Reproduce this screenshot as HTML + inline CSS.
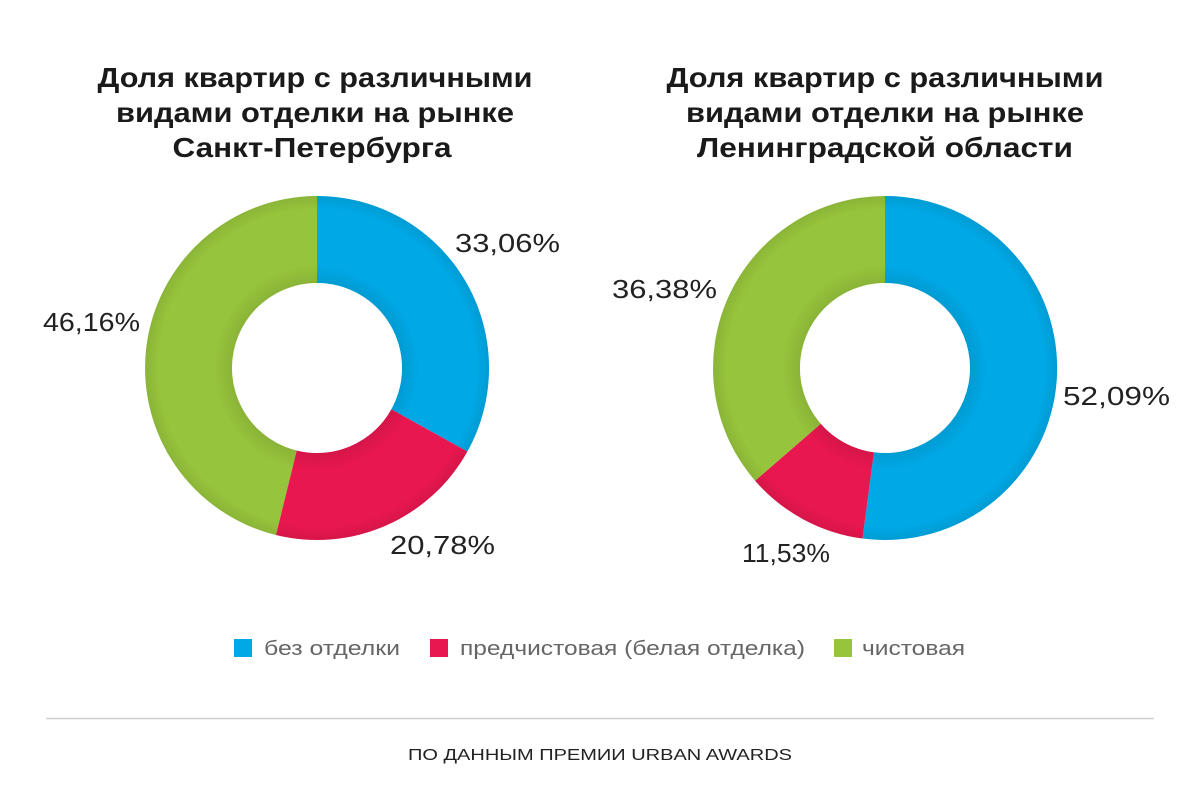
<!DOCTYPE html>
<html><head><meta charset="utf-8"><style>
html,body{margin:0;padding:0;background:#fff;}
body{width:1200px;height:781px;overflow:hidden;font-family:"Liberation Sans",sans-serif;}
</style></head><body>
<svg width="1200" height="781" viewBox="0 0 1200 781" xmlns="http://www.w3.org/2000/svg" font-family="Liberation Sans, sans-serif">
<defs>
<radialGradient id="sh" cx="0.5" cy="0.5" r="0.5">
<stop offset="0.5" stop-color="#000" stop-opacity="0.08"/>
<stop offset="0.6" stop-color="#000" stop-opacity="0"/>
<stop offset="0.92" stop-color="#000" stop-opacity="0"/>
<stop offset="1" stop-color="#000" stop-opacity="0.08"/>
</radialGradient>
</defs>
<g font-weight="bold" font-size="28" fill="#1a1a1a" text-anchor="middle" lengthAdjust="spacingAndGlyphs">
<text x="315" y="87" textLength="435" lengthAdjust="spacingAndGlyphs">Доля квартир с различными</text>
<text x="315" y="122" textLength="398" lengthAdjust="spacingAndGlyphs">видами отделки на рынке</text>
<text x="312" y="157" textLength="279" lengthAdjust="spacingAndGlyphs">Санкт-Петербурга</text>
<text x="885" y="87" textLength="437" lengthAdjust="spacingAndGlyphs">Доля квартир с различными</text>
<text x="885" y="122" textLength="398" lengthAdjust="spacingAndGlyphs">видами отделки на рынке</text>
<text x="885" y="157" textLength="376" lengthAdjust="spacingAndGlyphs">Ленинградской области</text>
</g>
<path d="M317 196 A172 172 0 0 1 467.4 451.5 L391.3 409.2 A85 85 0 0 0 317 283 Z" fill="#00a9e6"/>
<path d="M467.4 451.5 A172 172 0 0 1 275.9 535 L296.7 450.5 A85 85 0 0 0 391.3 409.2 Z" fill="#e8174f"/>
<path d="M275.9 535 A172 172 0 0 1 317 196 L317 283 A85 85 0 0 0 296.7 450.5 Z" fill="#96c43c"/>
<circle cx="317" cy="368" r="172" fill="url(#sh)"/>
<circle cx="317" cy="368" r="85" fill="#fff"/>
<path d="M885 196 A172 172 0 1 1 862.5 538.5 L873.9 452.3 A85 85 0 1 0 885 283 Z" fill="#00a9e6"/>
<path d="M862.5 538.5 A172 172 0 0 1 755.1 480.7 L820.8 423.7 A85 85 0 0 0 873.9 452.3 Z" fill="#e8174f"/>
<path d="M755.1 480.7 A172 172 0 0 1 885 196 L885 283 A85 85 0 0 0 820.8 423.7 Z" fill="#96c43c"/>
<circle cx="885" cy="368" r="172" fill="url(#sh)"/>
<circle cx="885" cy="368" r="85" fill="#fff"/>
<g font-size="26" fill="#222">
<text x="455" y="252" textLength="105" lengthAdjust="spacingAndGlyphs">33,06%</text>
<text x="43" y="331" textLength="97" lengthAdjust="spacingAndGlyphs">46,16%</text>
<text x="390" y="554" textLength="105" lengthAdjust="spacingAndGlyphs">20,78%</text>
<text x="612" y="298" textLength="105" lengthAdjust="spacingAndGlyphs">36,38%</text>
<text x="1063" y="405" textLength="107" lengthAdjust="spacingAndGlyphs">52,09%</text>
<text x="742" y="562" textLength="88" lengthAdjust="spacingAndGlyphs">11,53%</text>
</g>
<rect x="234" y="639" width="18" height="18" fill="#00a9e6"/>
<rect x="430" y="639" width="18" height="18" fill="#e8174f"/>
<rect x="834" y="639" width="18" height="18" fill="#96c43c"/>
<g font-size="20" fill="#666">
<text x="264" y="655" textLength="136" lengthAdjust="spacingAndGlyphs">без отделки</text>
<text x="460" y="655" textLength="345" lengthAdjust="spacingAndGlyphs">предчистовая (белая отделка)</text>
<text x="862" y="655" textLength="103" lengthAdjust="spacingAndGlyphs">чистовая</text>
</g>
<line x1="46" y1="718.5" x2="1154" y2="718.5" stroke="#d0d0d0" stroke-width="1.5"/>
<text x="408" y="760" font-size="16" fill="#222" textLength="384" lengthAdjust="spacingAndGlyphs">ПО ДАННЫМ ПРЕМИИ URBAN AWARDS</text>
</svg>
</body></html>
